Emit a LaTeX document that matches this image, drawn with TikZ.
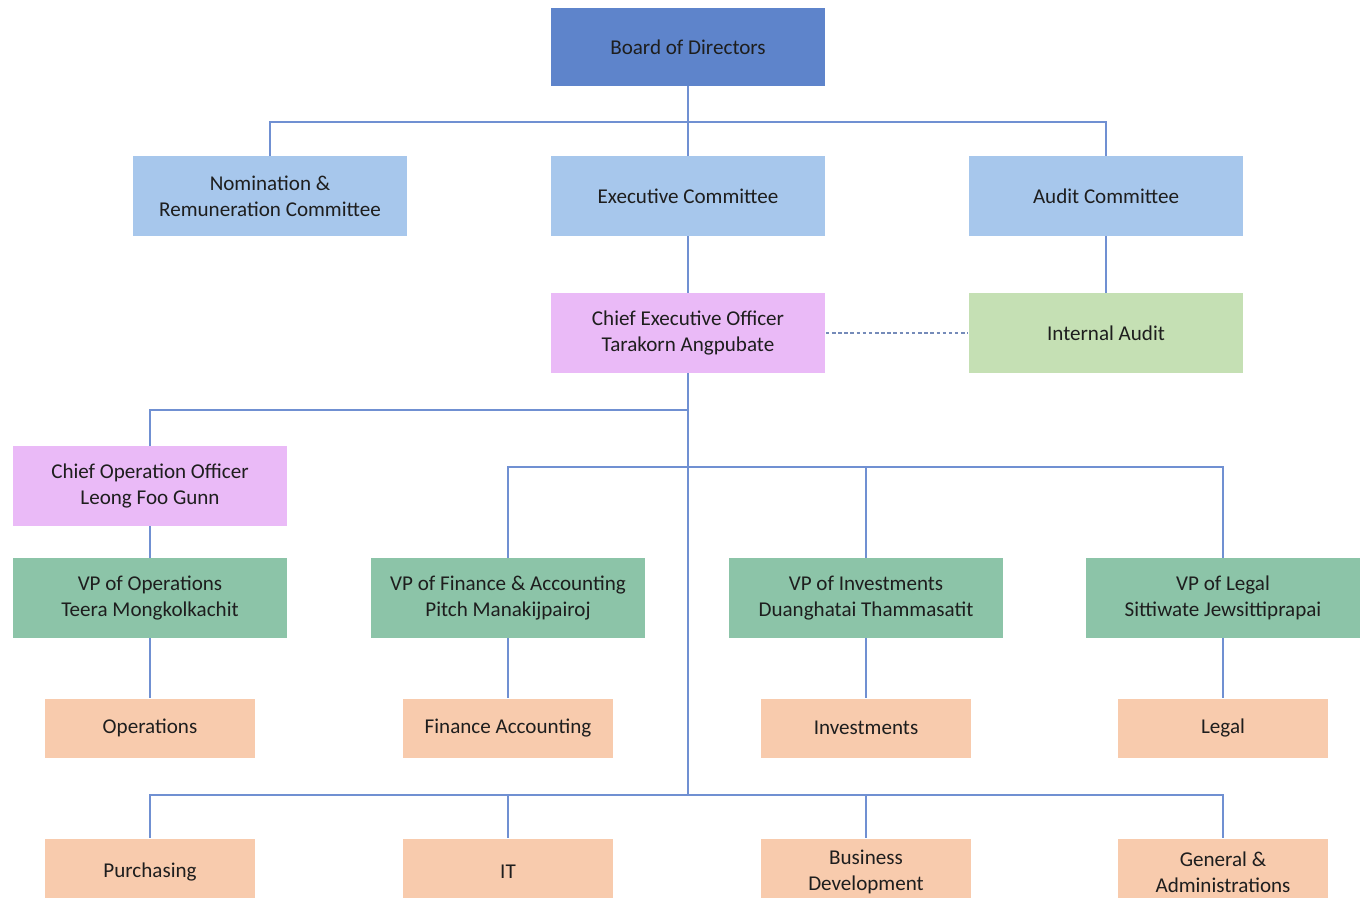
\documentclass[tikz,border=0pt]{standalone}
\usepackage{fontspec}
\setmainfont{Carlito}
\definecolor{boardblue}{RGB}{94,132,203}
\definecolor{commblue}{RGB}{167,199,236}
\definecolor{chiefpink}{RGB}{234,186,247}
\definecolor{auditgreen}{RGB}{197,224,180}
\definecolor{vpgreen}{RGB}{140,196,168}
\definecolor{deptpeach}{RGB}{248,203,173}
\definecolor{linkblue}{RGB}{112,144,210}
\definecolor{textgray}{RGB}{30,30,30}
\begin{document}
\begin{tikzpicture}[x=0.02cm, y=-0.02cm,
    every node/.style={font=\fontsize{12}{14.8}\selectfont, text=textgray, align=center, inner sep=0pt},
    bigbox/.style={minimum width=5.5cm, minimum height=1.6cm},
    deptbox/.style={minimum width=4.2cm, minimum height=1.18cm, fill=deptpeach},
    link/.style={draw=linkblue, line width=0.8pt}]
        \useasboundingbox (0,0) rectangle (1364,898);

        % Board and committees
        \node[bigbox, fill=boardblue, minimum height=1.56cm] (board) at (688,47) {Board of Directors};
        \node[bigbox, fill=commblue] (nomination) at (270,196) {Nomination \&\\Remuneration Committee};
        \node[bigbox, fill=commblue] (executive) at (688,196) {Executive Committee};
        \node[bigbox, fill=commblue] (audit) at (1106,196) {Audit Committee};

        % Chief executive and internal audit
        \node[bigbox, fill=chiefpink] (ceo) at (688,333) {Chief Executive Officer\\Tarakorn Angpubate};
        \node[bigbox, fill=auditgreen] (internal) at (1106,333) {Internal Audit};

        % Chief operation officer and VPs
        \node[bigbox, fill=chiefpink] (coo) at (150,486) {Chief Operation Officer\\Leong Foo Gunn};
        \node[bigbox, fill=vpgreen] (vpops) at (150,598) {VP of Operations\\Teera Mongkolkachit};
        \node[bigbox, fill=vpgreen] (vpfin) at (508,598) {VP of Finance \& Accounting\\Pitch Manakijpairoj};
        \node[bigbox, fill=vpgreen] (vpinv) at (866,598) {VP of Investments\\Duanghatai Thammasatit};
        \node[bigbox, fill=vpgreen] (vplegal) at (1223,598) {VP of Legal\\Sittiwate Jewsittiprapai};

        % Departments
        \node[deptbox] (operations) at (150,728) {Operations};
        \node[deptbox] (finance) at (508,728) {Finance Accounting};
        \node[deptbox] (investments) at (866,728) {Investments};
        \node[deptbox] (legal) at (1223,728) {Legal};
        \node[deptbox, minimum height=1.34cm] (purchasing) at (150,872) {Purchasing};
        \node[deptbox, minimum height=1.34cm] (it) at (508,872) {IT};
        \node[deptbox, minimum height=1.34cm] (bizdev) at (866,872) {Business\\Development};
        \node[deptbox, minimum height=1.34cm] (genadmin) at (1223,872) {General \&\\Administrations};

        % Junctions
        \coordinate (boardsplit) at (688,122);
        \coordinate (ceosplit) at (688,410);
        \coordinate (vpsplit) at (688,467);
        \coordinate (deptsplit) at (688,795);

        % Connectors
        \draw[link] (board) -- (executive);
        \draw[link] (boardsplit) -| (nomination);
        \draw[link] (boardsplit) -| (audit);
        \draw[link] (executive) -- (ceo);
        \draw[link] (audit) -- (internal);
        \draw[draw=linkblue!70!gray, line width=0.6pt, dash pattern=on 2pt off 1.5pt] (ceo) -- (internal);
        \draw[link] (ceo) -- (deptsplit);
        \draw[link] (ceosplit) -| (coo);
        \draw[link] (vpsplit) -| (vpfin);
        \draw[link] (vpsplit) -| (vpinv);
        \draw[link] (vpsplit) -| (vplegal);
        \draw[link] (coo) -- (vpops);
        \draw[link] (vpops) -- (operations);
        \draw[link] (vpfin) -- (finance);
        \draw[link] (vpinv) -- (investments);
        \draw[link] (vplegal) -- (legal);
        \draw[link] (deptsplit) -| (purchasing);
        \draw[link] (deptsplit) -| (it);
        \draw[link] (deptsplit) -| (bizdev);
        \draw[link] (deptsplit) -| (genadmin);
    \end{tikzpicture}
\end{document}
